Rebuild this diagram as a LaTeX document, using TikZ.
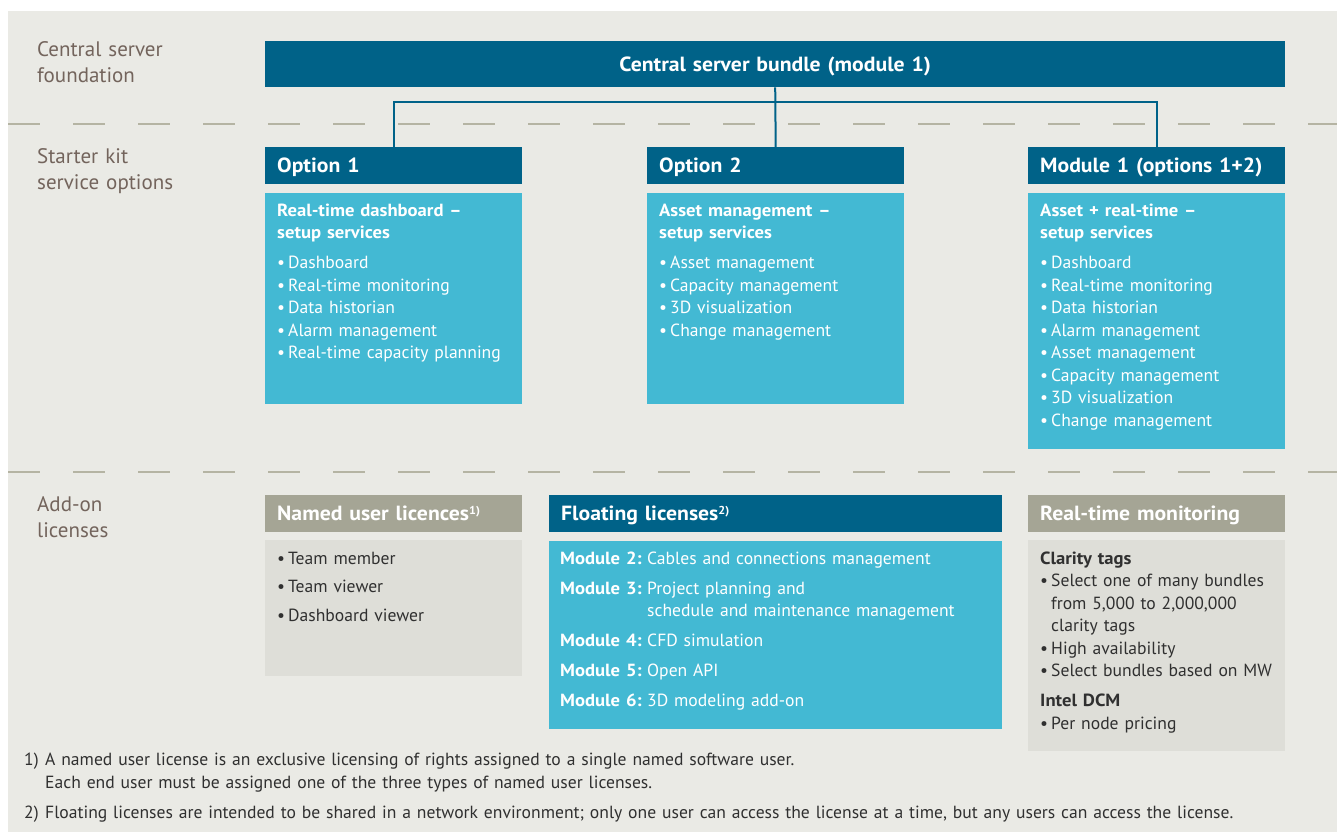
\documentclass[tikz,border=0pt]{standalone}
\usepackage{fontspec}
\setmainfont{PT Sans}[BoldFeatures={FakeStretch=1.06}]
\definecolor{petrol}{HTML}{006288}
\definecolor{lightpetrol}{HTML}{43B9D3}
\definecolor{sand}{HTML}{A5A595}
\definecolor{lightsand}{HTML}{DEDED8}
\definecolor{paper}{HTML}{EAEAE5}
\definecolor{dashgray}{HTML}{B5B4A3}
\definecolor{labelbrown}{HTML}{73645C}
\definecolor{inkgray}{HTML}{303030}
\newcommand{\itm}[1]{\makebox[11pt][l]{•}#1}
\newcommand{\mdl}[1]{\makebox[87pt][l]{\bfseries #1}}
\newcommand{\fnref}[1]{\raisebox{6.5pt}{\fontsize{11.5}{12}\selectfont #1}}
\newcommand{\bodyfont}{\fontsize{17.6}{22.5}\selectfont}
\begin{document}
\begin{tikzpicture}[x=1pt,y=-1pt,
  head/.style={anchor=north west, minimum height=37pt, inner xsep=12pt, inner ysep=0pt,
    text height=18pt, text depth=3.6pt,
    align=left, text=white, font=\bfseries\fontsize{20.5}{24}\selectfont},
  boxb/.style={anchor=north west, fill=lightpetrol, inner sep=0pt},
  boxg/.style={anchor=north west, fill=lightsand, inner sep=0pt},
  txt/.style={anchor=base west, inner sep=0pt, align=left, font=\bodyfont},
  lbl/.style={anchor=base west, inner sep=0pt, align=left, text width=220pt, text=labelbrown,
    font=\fontsize{21}{26}\selectfont},
  conn/.style={petrol, line width=2pt},
  rowline/.style={dashgray, line width=1.5pt, dash pattern=on 32pt off 33pt}]
\useasboundingbox (0,0) rectangle (1337,832);
% Fond
\fill[paper] (8,11) rectangle (1337,832);
\draw[rowline] (8,124) -- (1337,124);
\draw[rowline] (8,472) -- (1337,472);
% Libelles des rangees
\node[lbl] (csf) at (37,57) {Central server\\foundation};
\node[lbl] (sko) at (37,163) {Starter kit\\service options};
\node[lbl] (aol) at (37,511) {Add-on\\licenses};
% Module 1
\node[head, fill=petrol, minimum height=46pt, text width=996pt, align=center] (cent) at (265,41)
  {Central server bundle (module 1)};
% Options
\node[head, fill=petrol, text width=233pt] (opt1) at (265,147) {Option 1};
\node[head, fill=petrol, text width=233pt] (opt2) at (647,147) {Option 2};
\node[head, fill=petrol, text width=233pt] (mod1) at (1028,147) {Module 1 (options 1+2)};
\coordinate (split) at (775,102);
\draw[conn] (cent.south) -- (opt2.north);
\draw[conn] (opt1.north) |- (split) -| (mod1.north);
\node[boxb, minimum width=257pt, minimum height=211pt] (opt1box) at (265,193) {};
\node[boxb, minimum width=257pt, minimum height=211pt] (opt2box) at (647,193) {};
\node[boxb, minimum width=257pt, minimum height=256pt] (mod1box) at (1028,193) {};
\node[txt, text=white, text width=240pt] (opt1txt) at (277,216) {%
  \textbf{Real-time dashboard –}\\\textbf{setup services}\\[7.5pt]
  \itm{Dashboard}\\\itm{Real-time monitoring}\\\itm{Data historian}\\
  \itm{Alarm management}\\\itm{Real-time capacity planning}};
\node[txt, text=white, text width=240pt] (opt2txt) at (659,216) {%
  \textbf{Asset management –}\\\textbf{setup services}\\[7.5pt]
  \itm{Asset management}\\\itm{Capacity management}\\\itm{3D visualization}\\
  \itm{Change management}};
\node[txt, text=white, text width=240pt] (mod1txt) at (1040,216) {%
  \textbf{Asset + real-time –}\\\textbf{setup services}\\[7.5pt]
  \itm{Dashboard}\\\itm{Real-time monitoring}\\\itm{Data historian}\\
  \itm{Alarm management}\\\itm{Asset management}\\\itm{Capacity management}\\
  \itm{3D visualization}\\\itm{Change management}};
% Licences
\node[head, fill=sand, text width=233pt] (named) at (265,495) {Named user licences\fnref{1)}};
\node[head, fill=petrol, text width=429pt] (float) at (549,495) {Floating licenses\fnref{2)}};
\node[head, fill=sand, text width=233pt] (rtm) at (1028,495) {Real-time monitoring};
\node[boxg, minimum width=257pt, minimum height=136pt] (namedbox) at (265,540) {};
\node[boxb, minimum width=453pt, minimum height=188pt] (floatbox) at (549,541) {};
\node[boxg, minimum width=257pt, minimum height=211pt] (rtmbox) at (1028,540) {};
\node[txt, text=inkgray, text width=240pt] (namedtxt) at (277,564) {%
  \itm{Team member}\\[6pt]\itm{Team viewer}\\[6pt]\itm{Dashboard viewer}};
\node[txt, text=white, text width=440pt] (floattxt) at (560,564) {%
  \mdl{Module 2:}Cables and connections management\\[7.5pt]
  \mdl{Module 3:}Project planning and\\\hspace*{87pt}schedule and maintenance management\\[7.5pt]
  \mdl{Module 4:}CFD simulation\\[7.5pt]
  \mdl{Module 5:}Open API\\[7.5pt]
  \mdl{Module 6:}3D modeling add-on};
\node[txt, text=inkgray, text width=240pt] (rtmtxt) at (1040,564) {%
  \textbf{Clarity tags}\\\itm{Select one of many bundles}\\\hspace*{11pt}from 5,000 to 2,000,000\\
  \hspace*{11pt}clarity tags\\\itm{High availability}\\\itm{Select bundles based on MW}\\[7.5pt]
  \textbf{Intel DCM}\\\itm{Per node pricing}};
% Notes
\node[txt, text=inkgray, text width=1300pt, font=\fontsize{17.6}{23}\selectfont] (note1) at (24,765) {%
  \makebox[21pt][l]{1)}A named user license is an exclusive licensing of rights assigned to a single named software user.\\
  \hspace*{21pt}Each end user must be assigned one of the three types of named user licenses.};
\node[txt, text=inkgray, text width=1300pt, font=\fontsize{17.6}{23}\selectfont] (note2) at (24,818) {%
  \makebox[21pt][l]{2)}Floating licenses are intended to be shared in a network environment; only one user can access the license at a time, but any users can access the license.};
\end{tikzpicture}
\end{document}
